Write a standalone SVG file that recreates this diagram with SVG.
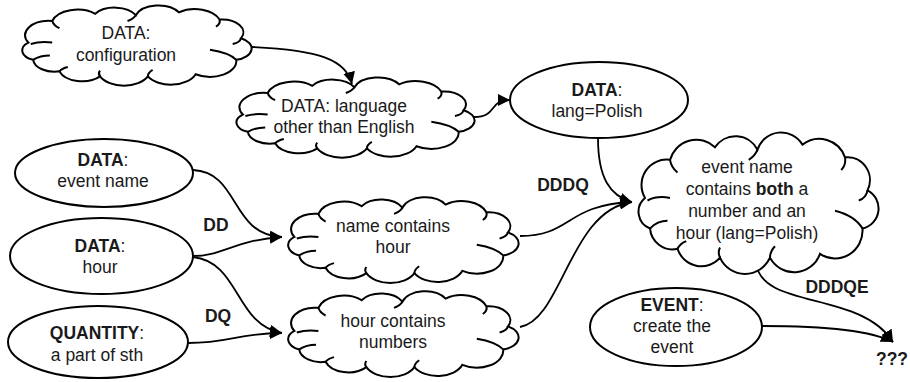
<svg xmlns="http://www.w3.org/2000/svg" xmlns:xlink="http://www.w3.org/1999/xlink" width="910" height="382" viewBox="0 0 910 382">
<style>
.shape{fill:#fff;stroke:#000;stroke-width:2}
.cl{fill:#fff;stroke:#000;stroke-width:2;vector-effect:non-scaling-stroke}
.tk{fill:none;stroke:#000;stroke-width:2;vector-effect:non-scaling-stroke}
.t{font-family:"Liberation Sans",Arial,sans-serif;font-size:17.5px;fill:#1a1a1a;text-anchor:middle}
.b{font-weight:bold}
.lbl{font-family:"Liberation Sans",Arial,sans-serif;font-size:17.5px;font-weight:bold;fill:#1a1a1a;text-anchor:middle}
.con{fill:none;stroke:#000;stroke-width:1.8}
</style>
<defs>
<marker id="ah" markerUnits="userSpaceOnUse" markerWidth="14" markerHeight="12" refX="12" refY="6" orient="auto">
<path d="M0,0 L12,6 L0,12 Z" fill="#000"/>
</marker>
<g id="cloud">
<path class="cl" d="M12,48 A20,20 0 0 1 32,18 A22,22 0 0 1 68,8 A20,20 0 0 1 102,10 A20,20 0 0 1 138,6 A22,22 0 0 1 172,16 A18,18 0 0 1 190,42 A16,16 0 0 1 186,72 A22,22 0 0 1 152,92 A22,22 0 0 1 112,95 A22,22 0 0 1 72,95 A20,20 0 0 1 38,88 A18,18 0 0 1 16,72 A14,14 0 0 1 12,48 Z"/>
<path class="tk" d="M14,50 Q22,46 32,48 M16,72 Q22,66 30,66 M32,18 Q33,24 38,28 M102,10 Q100,15 95,18 M172,16 Q173,22 169,26 M190,42 Q189,48 183,50 M186,72 Q180,62 164,58 M112,95 Q112,90 116,86 M72,95 Q70,91 72,87 M38,88 Q40,84 45,82"/>
</g>
</defs>

<g id="connectors">
<path class="con" d="M252,47 C320,50 346,60 352,84" marker-end="url(#ah)"/>
<path class="con" d="M474,117 C498,117 488,100 510,100" marker-end="url(#ah)"/>
<path class="con" d="M598,138 C598,178 610,196 632,202" marker-end="url(#ah)"/>
<path class="con" d="M520,236 C572,236 565,205 632,202" marker-end="url(#ah)"/>
<path class="con" d="M520,327 C562,320 570,210 632,202" marker-end="url(#ah)"/>
<path class="con" d="M193,170 C240,172 230,235 282,237" marker-end="url(#ah)"/>
<path class="con" d="M193,256 C222,256 235,240 282,237" marker-end="url(#ah)"/>
<path class="con" d="M193,257 C240,262 235,325 282,333" marker-end="url(#ah)"/>
<path class="con" d="M188,343 C230,343 238,333 282,333" marker-end="url(#ah)"/>
<path class="con" d="M756,262 C760,310 860,290 893,342" marker-end="url(#ah)"/>
<path class="con" d="M762,326 C820,326 870,330 893,342" marker-end="url(#ah)"/>
</g>

<g id="n-config">
<use xlink:href="#cloud" transform="translate(14,8) scale(1.195,0.72)"/>
<text class="t" x="126" y="39">DATA:</text>
<text class="t" x="126" y="61">configuration</text>
</g>
<g id="n-language">
<use xlink:href="#cloud" transform="translate(228,80) scale(1.24,0.72)"/>
<text class="t" x="344" y="112">DATA:  language</text>
<text class="t" x="344" y="133">other than English</text>
</g>
<g id="n-polish">
<ellipse class="shape" cx="599" cy="100" rx="89" ry="38"/>
<text class="t" x="597" y="96"><tspan class="b">DATA</tspan>:</text>
<text class="t" x="597" y="117">lang=Polish</text>
</g>
<g id="n-both">
<use xlink:href="#cloud" transform="translate(630,137) scale(1.25,1.27)"/>
<text class="t" x="747" y="173">event name</text>
<text class="t" x="747" y="195">contains <tspan class="b">both</tspan> a</text>
<text class="t" x="747" y="217">number and an</text>
<text class="t" x="747" y="239">hour (lang=Polish)</text>
</g>
<g id="n-eventname">
<ellipse class="shape" cx="104" cy="173" rx="89" ry="34"/>
<text class="t" x="103" y="166"><tspan class="b">DATA</tspan>:</text>
<text class="t" x="103" y="187">event name</text>
</g>
<g id="n-hour">
<ellipse class="shape" cx="101.5" cy="256" rx="91.5" ry="38"/>
<text class="t" x="100" y="252"><tspan class="b">DATA</tspan>:</text>
<text class="t" x="100" y="273">hour</text>
</g>
<g id="n-quantity">
<ellipse class="shape" cx="98" cy="342" rx="90" ry="36"/>
<text class="t" x="97" y="339"><tspan class="b">QUANTITY</tspan>:</text>
<text class="t" x="97" y="361">a part of sth</text>
</g>
<g id="n-namehour">
<use xlink:href="#cloud" transform="translate(280,200) scale(1.2,0.77)"/>
<text class="t" x="393" y="232">name contains</text>
<text class="t" x="393" y="253">hour</text>
</g>
<g id="n-hournumbers">
<use xlink:href="#cloud" transform="translate(280,294) scale(1.2,0.77)"/>
<text class="t" x="393" y="327">hour contains</text>
<text class="t" x="393" y="348">numbers</text>
</g>
<g id="n-event">
<ellipse class="shape" cx="676" cy="327" rx="86" ry="39"/>
<text class="t" x="672" y="311"><tspan class="b">EVENT</tspan>:</text>
<text class="t" x="672" y="332">create the</text>
<text class="t" x="672" y="353">event</text>
</g>

<g id="labels">
<text class="lbl" x="216" y="231">DD</text>
<text class="lbl" x="218" y="322">DQ</text>
<text class="lbl" x="563" y="191">DDDQ</text>
<text class="lbl" x="837" y="293">DDDQE</text>
<text class="lbl" x="892" y="365">???</text>
</g>
</svg>
